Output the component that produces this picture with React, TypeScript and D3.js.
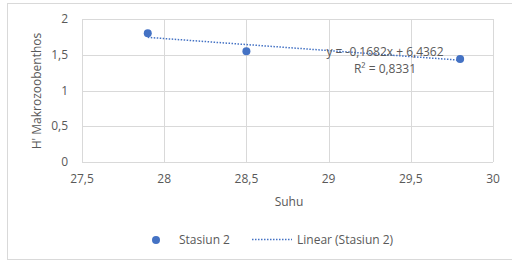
import React, { useEffect, useRef } from 'react';
import * as d3 from 'd3';

// data
const suhu = [27.9, 28.5, 29.8];
const hValues = [1.8, 1.55, 1.44];
const xTicks = [27.5, 28, 28.5, 29, 29.5, 30];
const yTicks = [0, 0.5, 1, 1.5, 2];
const slope = -0.1682;
const intercept = 6.4362;
const equationLabel = 'y = -0,1682x + 6,4362';
const r2Label = 'R² = 0,8331';

const fmt = (v: number) => String(v).replace('.', ',');
const FONT = 'Open Sans, sans-serif';
const FS = 12;
const TEXT = '#595959';
const BLUE = '#4472C4';

const App = () => {
    const ref = useRef<SVGSVGElement>(null);

    useEffect(() => {
        const svg = d3.select(ref.current);
        svg.selectAll('*').remove();

        // frame
        svg.append('rect')
            .attr('x', 7.5).attr('y', 3.5)
            .attr('width', 520).attr('height', 256)
            .attr('fill', 'white')
            .attr('stroke', '#d9d9d9');

        const x = d3.scaleLinear().domain([27.5, 30]).range([82, 493]);
        const y = d3.scaleLinear().domain([0, 2]).range([162, 19]);

        // gridlines
        svg.append('g')
            .selectAll('line')
            .data(xTicks)
            .enter()
            .append('line')
            .attr('x1', (d) => Math.round(x(d)) + 0.5)
            .attr('x2', (d) => Math.round(x(d)) + 0.5)
            .attr('y1', y(0))
            .attr('y2', y(2))
            .attr('stroke', '#d9d9d9');

        svg.append('g')
            .selectAll('line')
            .data(yTicks)
            .enter()
            .append('line')
            .attr('x1', x(27.5))
            .attr('x2', x(30))
            .attr('y1', (d) => Math.round(y(d)) + 0.5)
            .attr('y2', (d) => Math.round(y(d)) + 0.5)
            .attr('stroke', '#d9d9d9');

        // tick labels
        svg.append('g')
            .selectAll('text')
            .data(xTicks)
            .enter()
            .append('text')
            .attr('x', (d) => x(d))
            .attr('y', 183)
            .attr('text-anchor', 'middle')
            .attr('font-family', FONT)
            .attr('font-size', FS)
            .attr('fill', TEXT)
            .text((d) => fmt(d));

        svg.append('g')
            .selectAll('text')
            .data(yTicks)
            .enter()
            .append('text')
            .attr('x', 68)
            .attr('y', (d) => y(d) + 4)
            .attr('text-anchor', 'end')
            .attr('font-family', FONT)
            .attr('font-size', FS)
            .attr('fill', TEXT)
            .text((d) => fmt(d));

        // axis titles
        svg.append('text')
            .attr('x', 289)
            .attr('y', 206)
            .attr('text-anchor', 'middle')
            .attr('font-family', FONT)
            .attr('font-size', FS)
            .attr('fill', TEXT)
            .text('Suhu');

        svg.append('text')
            .attr('transform', 'translate(41,91) rotate(-90)')
            .attr('text-anchor', 'middle')
            .attr('font-family', FONT)
            .attr('font-size', FS)
            .attr('fill', TEXT)
            .text('H\' Makrozoobenthos');

        // trend line
        const [x0, x1] = d3.extent(suhu) as [number, number];
        svg.append('line')
            .attr('x1', x(x0))
            .attr('y1', y(slope * x0 + intercept))
            .attr('x2', x(x1))
            .attr('y2', y(slope * x1 + intercept))
            .attr('stroke', BLUE)
            .attr('stroke-width', 1.5)
            .attr('stroke-dasharray', '1.5,1.5');

        // points
        svg.append('g')
            .selectAll('circle')
            .data(suhu)
            .enter()
            .append('circle')
            .attr('cx', (d) => x(d))
            .attr('cy', (d, i) => y(hValues[i]))
            .attr('r', 4)
            .attr('fill', BLUE);

        // equation
        svg.append('text')
            .attr('x', 385)
            .attr('y', 56)
            .attr('text-anchor', 'middle')
            .attr('font-family', FONT)
            .attr('font-size', FS)
            .attr('fill', TEXT)
            .text(equationLabel);
        svg.append('text')
            .attr('x', 385)
            .attr('y', 73)
            .attr('text-anchor', 'middle')
            .attr('font-family', FONT)
            .attr('font-size', FS)
            .attr('fill', TEXT)
            .text(r2Label);

        // legend
        svg.append('circle')
            .attr('cx', 156).attr('cy', 240).attr('r', 4)
            .attr('fill', BLUE);
        svg.append('text')
            .attr('x', 179).attr('y', 244)
            .attr('font-family', FONT)
            .attr('font-size', FS)
            .attr('fill', TEXT)
            .text('Stasiun 2');
        svg.append('line')
            .attr('x1', 252).attr('x2', 292)
            .attr('y1', 239.5).attr('y2', 239.5)
            .attr('stroke', BLUE)
            .attr('stroke-width', 1.5)
            .attr('stroke-dasharray', '1.5,1.5');
        svg.append('text')
            .attr('x', 297).attr('y', 244)
            .attr('font-family', FONT)
            .attr('font-size', FS)
            .attr('fill', TEXT)
            .text('Linear (Stasiun 2)');
    }, []);

    return (
        <svg
            ref={ref}
            width={512}
            height={262}
            style={{ position: 'absolute', left: 0, top: 0 }}
        />
    );
};

export default App;
